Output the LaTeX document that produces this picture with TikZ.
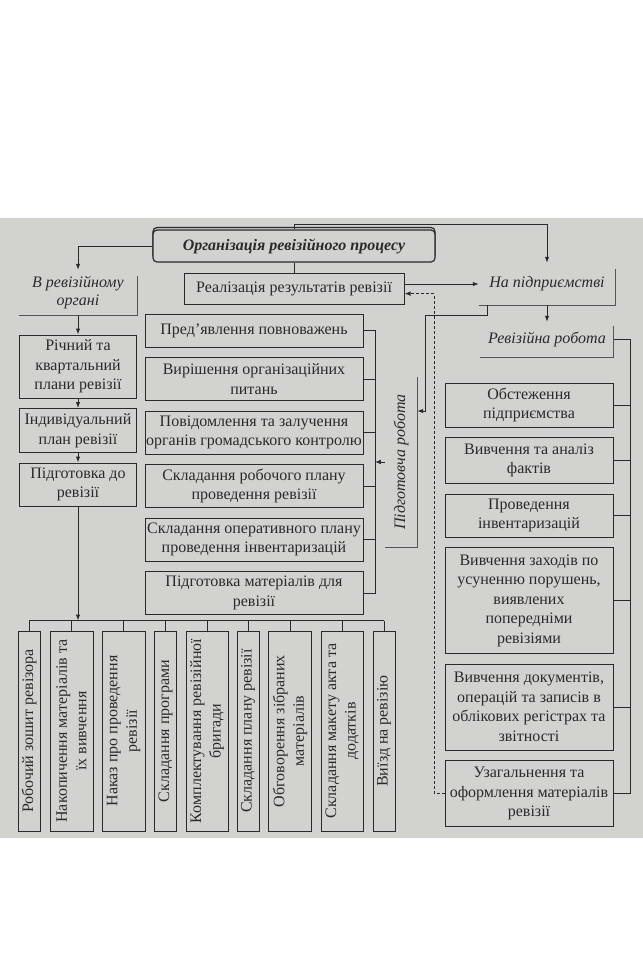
\documentclass[tikz,border=0pt]{standalone}
\usepackage{fontspec}
\setmainfont{Liberation Serif}
\usepackage{xcolor}
\usetikzlibrary{arrows.meta,positioning,shadows}

\definecolor{paper}{RGB}{210,210,207}
\definecolor{ink}{RGB}{42,42,42}

\begin{document}
\begin{tikzpicture}[
        x=1pt, y=-1pt,
        node distance=9.5pt,
        box/.style={
            draw=ink,
            fill=paper,
            text=ink,
            line width=1pt,
            align=center,
            inner sep=1pt,
            font=\fontsize{16}{19.5}\selectfont
        },
        headbox/.style={
            box,
            rounded corners=4pt,
            line width=1.2pt,
            minimum width=282,
            minimum height=32,
            font=\fontsize{16}{18}\selectfont\bfseries\itshape,
            copy shadow={shadow xshift=0pt, shadow yshift=2.5pt}
        },
        leftbox/.style={box, minimum width=117},
        midbox/.style={box, minimum width=218, minimum height=43},
        rightbox/.style={box, minimum width=168},
        vbox/.style={box, rotate=90, minimum width=200},
        areatext/.style={
            text=ink,
            align=center,
            inner sep=1pt,
            font=\fontsize{16}{18}\selectfont\itshape
        },
        frame/.style={draw=ink!80, line width=0.8pt},
        link/.style={draw=ink, line width=1pt},
        arrow/.style={link, -{Latex[length=6pt,width=4.5pt]}},
        dasharrow/.style={arrow, dash pattern=on 3pt off 2pt}
    ]
        \fill[paper] (0,218) rectangle (643,838);
        \useasboundingbox (0,0) rectangle (643,978);

        \node[headbox] (main) at (294,246) {Організація ревізійного процесу};
        \node[box, minimum width=220, minimum height=31, below=10pt of main] (real) {Реалізація результатів ревізії};

        \node[areatext, minimum width=118, minimum height=45] (organ) at (78,292.5) {В ревізійному\\органі};
        \node[areatext, minimum width=136, minimum height=42] (pidpr) at (547,284) {На підприємстві};
        \node[areatext, minimum width=133, minimum height=35] (rwork) at (547,339.5) {Ревізійна робота};
        \node[areatext, rotate=90, minimum width=170, minimum height=32] (prep) at (401,462) {Підготовча робота};

        % left column
        \node[leftbox, minimum height=63] (annual) at (78,366.5) {Річний та\\квартальний\\плани ревізії};
        \node[leftbox, minimum height=44, below=of annual] (indiv) {Індивідуальний\\план ревізії};
        \node[leftbox, minimum height=43, below=of indiv] (podg) {Підготовка до\\ревізії};

        % middle column
        \node[midbox, minimum height=33] (pres) at (254,330.5) {Пред’явлення повноважень};
        \node[midbox, below=of pres] (vyr) {Вирішення організаційних\\питань};
        \node[midbox, below=of vyr] (povid) {Повідомлення та залучення\\органів громадського контролю};
        \node[midbox, below=of povid] (robplan) {Складання робочого плану\\проведення ревізії};
        \node[midbox, below=of robplan] (operplan) {Складання оперативного плану\\проведення інвентаризацій};
        \node[midbox, below=of operplan] (matr) {Підготовка матеріалів для\\ревізії};

        % right column
        \node[rightbox, minimum height=44] (obst) at (529,405) {Обстеження\\підприємства};
        \node[rightbox, minimum height=46, below=of obst] (fact) {Вивчення та аналіз\\фактів};
        \node[rightbox, minimum height=43, below=of fact] (invent) {Проведення\\інвентаризацій};
        \node[rightbox, minimum height=106, below=of invent] (zahody) {Вивчення заходів по\\усуненню порушень,\\виявлених\\попередніми\\ревізіями};
        \node[rightbox, minimum height=86, below=of zahody] (docs) {Вивчення документів,\\операцій та записів в\\облікових регістрах та\\звітності};
        \node[rightbox, minimum height=66, below=of docs] (summ) {Узагальнення та\\оформлення матеріалів\\ревізії};

        % bottom row
        \node[vbox, minimum height=22] (v1) at (29,731) {Робочий зошит ревізора};
        \node[vbox, minimum height=43] (v2) at (71.5,731) {Накопичення матеріалів та\\їх вивчення};
        \node[vbox, minimum height=43] (v3) at (123.5,731) {Наказ про проведення\\ревізії};
        \node[vbox, minimum height=22] (v4) at (165.5,731) {Складання програми};
        \node[vbox, minimum height=42] (v5) at (207,731) {Комплектування ревізійної\\бригади};
        \node[vbox, minimum height=22] (v6) at (248,731) {Складання плану ревізії};
        \node[vbox, minimum height=43] (v7) at (290,731) {Обговорення зібраних\\матеріалів};
        \node[vbox, minimum height=42] (v8) at (342,731) {Складання макету акта та\\додатків};
        \node[vbox, minimum height=22] (v9) at (384,731) {Виїзд на ревізію};

        % frames of the italic headings
        \draw[frame] ([yshift=-6pt]organ.north east) -- (organ.south east) -- (organ.south west);
        \draw[frame] ([yshift=-6pt]pidpr.north east) -- (pidpr.south east) -- (pidpr.south west);
        \draw[frame] ([yshift=-4pt]rwork.north east) -- (rwork.south east) -- (rwork.south west);
        \draw[frame] (prep.south east) -- (prep.south west) -- (prep.north west);

        % connectors
        \draw[arrow] (main.north) -- ++(0,-5) -| (pidpr.north);
        \draw[arrow] (main.west) -| (organ.north);
        \draw[link] (main.south) -- (real.north);
        \draw[arrow] (real.east |- pidpr.west) -- (pidpr.west);
        \draw[dasharrow] (summ.west) -- ++(-10,0) |- ([yshift=-5pt]real.east);
        \draw[arrow] (pidpr.south) -- (rwork.north);
        \draw[arrow] ([xshift=9pt]pidpr.south west) -- ++(0,10) -| ([xshift=8pt,yshift=51pt]prep.south) -- ([yshift=51pt]prep.south);

        \draw[arrow] (organ.south) -- (annual.north);
        \draw[arrow] (annual.south) -- (indiv.north);
        \draw[arrow] (indiv.south) -- (podg.north);

        \coordinate (busL) at ([yshift=10pt]v1.east);
        \draw[link] (busL) -- ([yshift=10pt]v9.east);
        \draw[arrow] (podg.south) -- (podg.south |- busL);
        \foreach \i in {1,...,9}
            \draw[link] (v\i.east) -- ++(0,-10);

        \draw[link] (pres.east) -- ++(12,0) |- (matr.east);
        \foreach \n in {vyr,povid,robplan,operplan}
            \draw[link] (\n.east) -- ++(12,0);
        \draw[arrow] (prep.north) -- ++(-10,0);

        \draw[link] (rwork.east) -- ++(16.5,0) |- (summ.east);
        \foreach \n in {obst,fact,invent,zahody,docs}
            \draw[link] (\n.east) -- ++(17,0);
    \end{tikzpicture}
\end{document}
